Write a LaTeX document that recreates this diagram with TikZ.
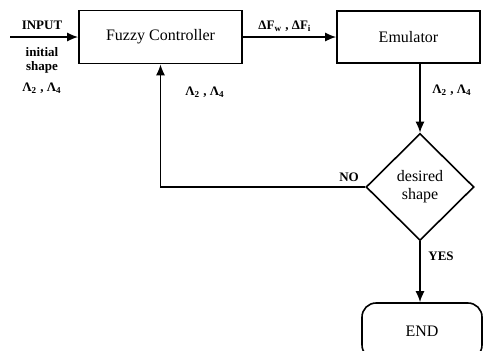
\documentclass[tikz,border=0pt]{standalone}
\usepackage{fontspec}
\setmainfont{Liberation Serif}
\usetikzlibrary{shapes.geometric,arrows.meta}

\begin{document}
\begin{tikzpicture}
  [x=0.5pt,y=-0.5pt,line width=0.8pt,>={Latex[length=5.5pt,width=4.5pt]},
   block/.style={draw,rectangle,font=\fontsize{8}{9}\selectfont},
   lbl/.style={inner sep=0pt,font=\fontsize{6.5}{7.5}\selectfont\bfseries}]
  \useasboundingbox (0,0) rectangle (501,350);
  \node[block,minimum width=81.5pt,minimum height=26.5pt] (fc) at (160.5,37) {Fuzzy Controller};
  \node[block,minimum width=71.5pt,minimum height=26pt] (em) at (408.5,37) {Emulator};
  \node[draw,diamond,minimum width=54pt,minimum height=53.5pt,inner sep=0pt,align=center,
        font=\fontsize{8}{9}\selectfont] (dec) at (420,187) {desired\\shape};
  \node[block,rounded corners=7pt,minimum width=60pt,minimum height=28pt] (end) at (422,331) {END};
  \coordinate (in) at (10,37);

  \node[lbl] (l1) at (42,25) {INPUT};
  \node[lbl] (l2) at (42,52) {initial};
  \node[lbl] (l3) at (42,67) {shape};
  \node[lbl] (l4) at (42,88) {Λ\textsubscript{2} , Λ\textsubscript{4}};
  \node[lbl] (l5) at (205,92) {Λ\textsubscript{2} , Λ\textsubscript{4}};
  \node[lbl] (l6) at (285,26) {ΔF\textsubscript{w} , ΔF\textsubscript{i}};
  \node[lbl] (l7) at (452,90) {Λ\textsubscript{2} , Λ\textsubscript{4}};
  \node[lbl] (l8) at (349,177) {NO};
  \node[lbl] (l9) at (441,256) {YES};

  \draw[->] (in) -- (fc.west);
  \draw[->] (fc.east) -- (em.west);
  \draw[->] (em.south -| dec.north) -- (dec.north);
  \draw[->] (dec.west) -| (fc.south);
  \draw[->] (dec.south) -- (dec.south |- end.north);
\end{tikzpicture}
\end{document}
